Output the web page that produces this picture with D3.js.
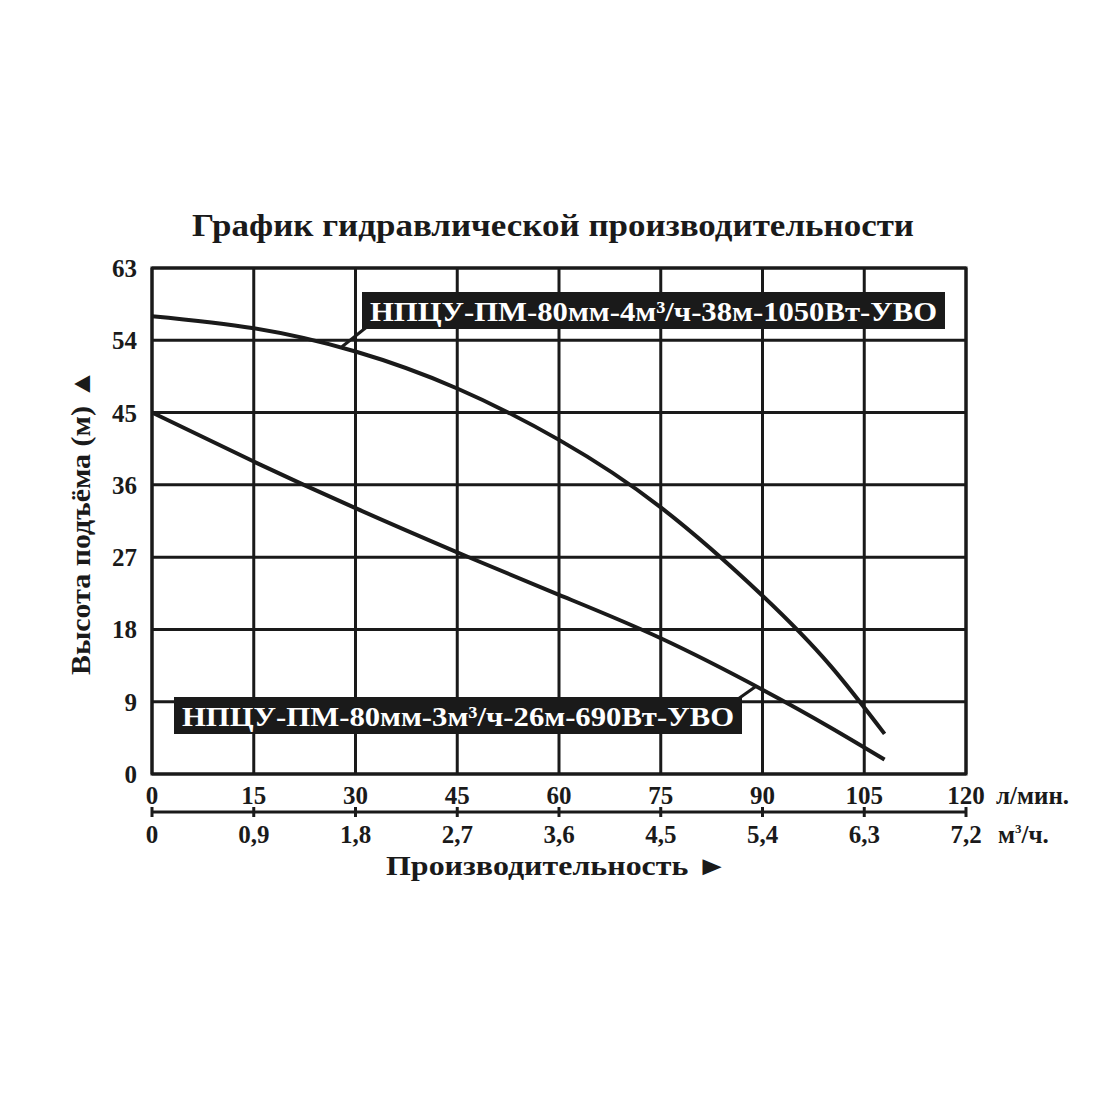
<!DOCTYPE html>
<html>
<head>
<meta charset="utf-8">
<script src="https://cdn.jsdelivr.net/npm/d3@7"></script>
<style>
  body { margin: 0; background: #fff; }
  text { font-family: "Liberation Serif", "Times New Roman", Times, serif; font-weight: bold; fill: #1a1a1a; }
</style>
</head>
<body>
<div id="chart"></div>
<script>
const WIDTH = 1100;
const HEIGHT = 1100;

// flow, l/min, and head, m
var FLOW_TICKS = [0, 15, 30, 45, 60, 75, 90, 105, 120];
var M3_TICKS = ["0", "0,9", "1,8", "2,7", "3,6", "4,5", "5,4", "6,3", "7,2"];
var HEAD_TICKS = [0, 9, 18, 27, 36, 45, 54, 63];

var FLOW = [0, 15, 30, 45, 60, 75, 90, 100, 108];
var HEAD_1050 = [57, 55.5, 52.6, 48, 41.6, 33.2, 22.2, 13.5, 5];
var HEAD_690 = [45, 38.9, 33.1, 27.6, 22.3, 16.9, 10.5, 5.8, 1.8];

var LABEL_1050 = "НПЦУ-ПМ-80мм-4м³/ч-38м-1050Вт-УВО";
var LABEL_690 = "НПЦУ-ПМ-80мм-3м³/ч-26м-690Вт-УВО";

var LEFT = 152, RIGHT = 966, TOP = 268, BOTTOM = 774;

var xScale = d3.scaleLinear().domain([0, 120]).range([LEFT, RIGHT]);
var yScale = d3.scaleLinear().domain([0, 63]).range([BOTTOM, TOP]);

var svg = d3.select("#chart").append("svg")
  .attr("width", WIDTH)
  .attr("height", HEIGHT);

//Title
svg.append("text")
  .attr("x", 553).attr("y", 236)
  .attr("text-anchor", "middle")
  .attr("font-size", 32)
  .attr("textLength", 722)
  .attr("lengthAdjust", "spacingAndGlyphs")
  .text("График гидравлической производительности");

//Grid
var grid = svg.append("g").attr("stroke", "#1a1a1a").attr("stroke-width", 3);
grid.selectAll("line.v").data(FLOW_TICKS).enter().append("line")
  .attr("x1", d => xScale(d)).attr("x2", d => xScale(d))
  .attr("y1", TOP).attr("y2", BOTTOM);
grid.selectAll("line.h").data(HEAD_TICKS).enter().append("line")
  .attr("x1", LEFT).attr("x2", RIGHT)
  .attr("y1", d => yScale(d)).attr("y2", d => yScale(d));
grid.append("rect")
  .attr("x", LEFT).attr("y", TOP)
  .attr("width", RIGHT - LEFT).attr("height", BOTTOM - TOP)
  .attr("fill", "none");

//Y tick labels
svg.append("g").selectAll("text").data(HEAD_TICKS).enter().append("text")
  .attr("x", 137).attr("y", d => yScale(d) + 9)
  .attr("text-anchor", "end")
  .attr("font-size", 25)
  .text(d => d);

//X tick labels, l/min
svg.append("g").selectAll("text").data(FLOW_TICKS).enter().append("text")
  .attr("x", d => xScale(d)).attr("y", 804)
  .attr("text-anchor", "middle")
  .attr("font-size", 25)
  .text(d => d);
svg.append("text").attr("x", 996).attr("y", 804).attr("font-size", 25).text("л/мин.");

//second axis, m3/h
svg.append("line")
  .attr("x1", LEFT).attr("x2", RIGHT).attr("y1", 812).attr("y2", 812)
  .attr("stroke", "#1a1a1a").attr("stroke-width", 3);
svg.append("g").selectAll("line").data(FLOW_TICKS).enter().append("line")
  .attr("x1", d => xScale(d)).attr("x2", d => xScale(d))
  .attr("y1", 807).attr("y2", 817)
  .attr("stroke", "#1a1a1a").attr("stroke-width", 3);
svg.append("g").selectAll("text").data(M3_TICKS).enter().append("text")
  .attr("x", (d, i) => xScale(FLOW_TICKS[i])).attr("y", 843)
  .attr("text-anchor", "middle")
  .attr("font-size", 25)
  .text(d => d);
var m3 = svg.append("text").attr("x", 998).attr("y", 843).attr("font-size", 25);
m3.append("tspan").text("м");
m3.append("tspan").attr("font-size", 13).attr("dy", -10).text("3");
m3.append("tspan").attr("dy", 10).text("/ч.");

//axis titles
svg.append("text")
  .attr("x", 557).attr("y", 875)
  .attr("text-anchor", "middle")
  .attr("font-size", 27)
  .attr("textLength", 342)
  .attr("lengthAdjust", "spacingAndGlyphs")
  .text("Производительность ►");
svg.append("text")
  .attr("transform", "translate(90,522) rotate(-90)")
  .attr("text-anchor", "middle")
  .attr("font-size", 27)
  .attr("textLength", 306)
  .attr("lengthAdjust", "spacingAndGlyphs")
  .text("Высота подъёма (м) ▲");

//Curves
var line = d3.line()
  .x(d => xScale(d[0]))
  .y(d => yScale(d[1]))
  .curve(d3.curveNatural);

[HEAD_1050, HEAD_690].forEach(function (heads) {
  svg.append("path")
    .datum(FLOW.map((f, i) => [f, heads[i]]))
    .attr("d", line)
    .attr("fill", "none")
    .attr("stroke", "#1a1a1a")
    .attr("stroke-width", 4);
});

//Labels with leaders
function addLabel(text, bx, by, bw, bh, lx1, ly1, lx2, ly2) {
  var g = svg.append("g");
  g.append("line")
    .attr("x1", lx1).attr("y1", ly1).attr("x2", lx2).attr("y2", ly2)
    .attr("stroke", "#1a1a1a").attr("stroke-width", 3);
  g.append("rect")
    .attr("x", bx).attr("y", by).attr("width", bw).attr("height", bh)
    .attr("fill", "#1a1a1a");
  g.append("text")
    .attr("x", bx + bw / 2).attr("y", by + bh / 2 + 10)
    .attr("text-anchor", "middle")
    .attr("font-size", 28)
    .attr("textLength", bw - 16)
    .attr("lengthAdjust", "spacingAndGlyphs")
    .style("fill", "#fff")
    .text(text);
}
addLabel(LABEL_1050, 362, 292, 583, 37, 368, 326, xScale(28), yScale(53.2));
addLabel(LABEL_690, 174, 697, 568, 37, 738, 699, xScale(89), yScale(10.9));
</script>
</body>
</html>
